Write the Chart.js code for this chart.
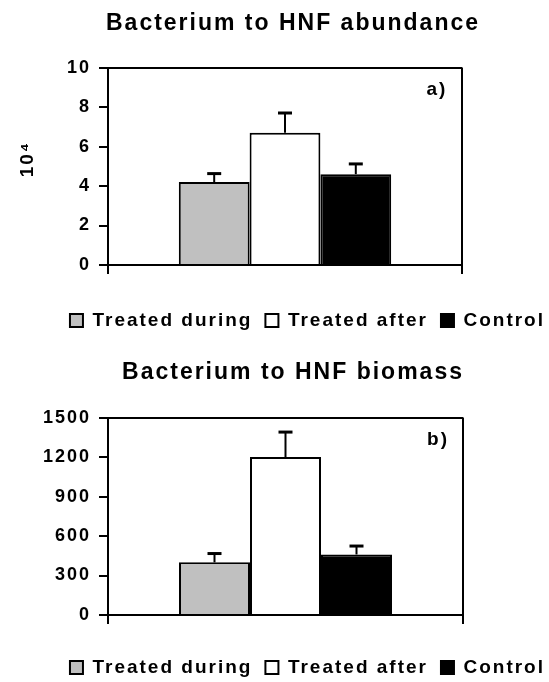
<!DOCTYPE html>
<html>
<head>
<meta charset="utf-8">
<script src="https://cdn.jsdelivr.net/npm/chart.js@4"></script>
<style>
  html, body { margin: 0; padding: 0; background: #fff; overflow: hidden; }
  #zoneA { position: absolute; left: 0; top: 0; }
  #zoneB { position: absolute; left: 0; top: 340px; }
</style>
</head>
<body>
<canvas id="zoneA" width="549" height="340"></canvas>
<canvas id="zoneB" width="549" height="350"></canvas>
<script>
"use strict"

    let groupes = ["Treated during", "Treated after", "Control"]
    let couleurs = ["#c0c0c0", "#ffffff", "#000000"]

    let abondance = [4.2, 6.7, 4.6]
    let abondanceErr = [0.43, 1.0, 0.52]

    let biomasse = [400, 1200, 460]
    let biomasseErr = [67, 190, 64]

    Chart.defaults.font.family = "'Liberation Sans', Arial, sans-serif"
    Chart.defaults.font.weight = "bold"
    Chart.defaults.color = "#000"

    // espacement des lettres comme sur la figure
    let espacement = {
        id: "espacement",
        beforeUpdate(chart) { chart.ctx.letterSpacing = "2px" },
        beforeDraw(chart) { chart.ctx.letterSpacing = "2px" }
    }

    let barresErreur = {
        id: "barresErreur",
        afterDatasetsDraw(chart, args, opts) {
            let ctx = chart.ctx
            let y = chart.scales.y
            ctx.save()
            ctx.strokeStyle = "#000"
            chart.data.datasets.forEach((ds, i) => {
                let barre = chart.getDatasetMeta(i).data[0]
                let haut = y.getPixelForValue(ds.data[0] + opts.erreurs[i])
                ctx.lineWidth = 2
                ctx.beginPath()
                ctx.moveTo(barre.x, barre.y)
                ctx.lineTo(barre.x, haut)
                ctx.stroke()
                ctx.lineWidth = 3
                ctx.beginPath()
                ctx.moveTo(barre.x - 7, haut)
                ctx.lineTo(barre.x + 7, haut)
                ctx.stroke()
            })
            ctx.restore()
        }
    }

    let lettre = {
        id: "lettre",
        afterDraw(chart, args, opts) {
            let ctx = chart.ctx
            ctx.save()
            ctx.font = "bold 19px 'Liberation Sans', Arial, sans-serif"
            ctx.fillStyle = "#000"
            ctx.textAlign = "center"
            ctx.textBaseline = "middle"
            ctx.fillText(opts.texte, chart.chartArea.right - 25, chart.chartArea.top + 22)
            ctx.restore()
        }
    }

    function graphique(canvas, titre, valeurs, erreurs, r) {
        return new Chart(canvas, {
            type: "bar",
            data: {
                labels: [""],
                datasets: groupes.map((g, i) => ({
                    label: g,
                    data: [valeurs[i]],
                    yAxisID: "y",
                    backgroundColor: couleurs[i],
                    borderColor: "#000",
                    borderWidth: 2,
                    categoryPercentage: 0.6,
                    barPercentage: 1
                }))
            },
            options: {
                responsive: false,
                animation: false,
                layout: { padding: { left: 28, right: -9, top: 0, bottom: r.bas } },
                plugins: {
                    title: {
                        display: true,
                        text: titre,
                        font: { size: 23, weight: "bold" },
                        color: "#000",
                        padding: { top: r.titreHaut, bottom: r.titreBas }
                    },
                    legend: {
                        position: "bottom",
                        align: "end",
                        labels: {
                            boxWidth: 13,
                            boxHeight: 13,
                            padding: 13,
                            color: "#000",
                            font: { size: 19, weight: "bold" }
                        }
                    },
                    tooltip: { enabled: false },
                    barresErreur: { erreurs: erreurs },
                    lettre: { texte: r.lettre }
                },
                scales: {
                    x: {
                        grid: { offset: true, color: "#000", lineWidth: 2, tickLength: 9 },
                        border: { color: "#000", width: 2 },
                        ticks: { display: false },
                        afterFit: s => { s.height = r.axeX }
                    },
                    y: {
                        min: 0,
                        max: r.max,
                        ticks: {
                            stepSize: r.pas,
                            padding: 8,
                            color: "#000",
                            font: { size: 18, weight: "bold" },
                            callback: v => String(v)
                        },
                        grid: {
                            color: c => (c.tick && c.tick.value === r.max) ? "#000" : "rgba(0,0,0,0)",
                            tickColor: "#000",
                            lineWidth: 2,
                            tickLength: 9
                        },
                        border: { color: "#000", width: 2 },
                        title: {
                            display: r.unite !== "",
                            text: r.unite,
                            color: "#000",
                            font: { size: 19, weight: "bold" },
                            padding: { top: -12, bottom: 0 }
                        },
                        afterFit: s => { s.width = 80 }
                    },
                    y2: {
                        position: "right",
                        grid: { display: false },
                        border: { display: false },
                        ticks: { display: false },
                        afterFit: s => { s.width = r.droite }
                    }
                }
            },
            plugins: [espacement, barresErreur, lettre]
        })
    }

    let graphA = graphique(document.querySelector("#zoneA"), "Bacterium to HNF abundance", abondance, abondanceErr, {
        max: 10, pas: 2, unite: "  10⁴", lettre: "a)",
        titreHaut: 10, titreBas: 30, axeX: 33, bas: 0, droite: 96
    })

    let graphB = graphique(document.querySelector("#zoneB"), "Bacterium to HNF biomass", biomasse, biomasseErr, {
        max: 1500, pas: 300, unite: "", lettre: "b)",
        titreHaut: 19, titreBas: 31, axeX: 30, bas: 3, droite: 95
    })
</script>
</body>
</html>
